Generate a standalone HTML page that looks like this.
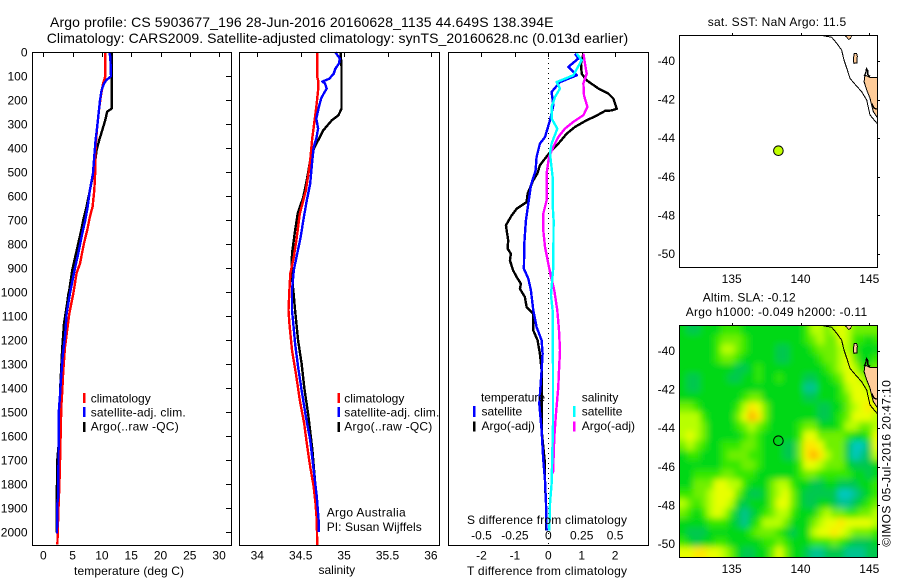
<!DOCTYPE html>
<html>
<head>
<meta charset="utf-8">
<title>Argo profile 5903677_196</title>
<style>
html,body{margin:0;padding:0;background:#fff;width:900px;height:580px;overflow:hidden}
svg{display:block}
text{font-family:"Liberation Sans",sans-serif;font-size:12px;fill:#000}
.title{font-size:14px}
.frame{fill:none;stroke:#000;stroke-width:1;shape-rendering:crispEdges}
.tick{stroke:#000;stroke-width:1;shape-rendering:crispEdges}
.series{fill:none;stroke-width:2.4;stroke-linejoin:round;shape-rendering:crispEdges}
</style>
</head>
<body>
<svg id="fig" xmlns="http://www.w3.org/2000/svg" width="900" height="580" viewBox="0 0 900 580">
<defs>
<clipPath id="clip-map1"><rect x="679.5" y="35.5" width="198" height="232"/></clipPath>
<clipPath id="clip-map2"><rect x="679.5" y="325.5" width="198" height="232"/></clipPath>
<filter id="soften" filterUnits="userSpaceOnUse" x="650" y="300" width="250" height="280"><feGaussianBlur stdDeviation="3.3"/></filter>
</defs>
<rect x="0" y="0" width="900" height="580" fill="#fff"/>

<text class="title" x="50" y="27" textLength="503.5" lengthAdjust="spacing">Argo profile: CS 5903677_196 28-Jun-2016 20160628_1135 44.649S 138.394E</text>
<text class="title" x="46.7" y="43" textLength="581.5" lengthAdjust="spacing">Climatology: CARS2009. Satellite-adjusted climatology: synTS_20160628.nc (0.013d earlier)</text>

<g id="panels"></g>
<g id="maps"></g>

<rect class="frame" x="32.5" y="52.5" width="199" height="493"/>
<rect class="frame" x="239.5" y="52.5" width="200" height="493"/>
<rect class="frame" x="448.5" y="52.5" width="200" height="493"/>
<rect class="frame" x="679.5" y="35.5" width="198" height="232"/>
<rect class="frame" x="679.5" y="325.5" width="198" height="232"/>

<text x="74" y="575" textLength="110" lengthAdjust="spacing">temperature (deg C)</text>
<text x="318.5" y="574">salinity</text>
<text x="467" y="575" textLength="160" lengthAdjust="spacing">T difference from climatology</text>
<text x="467" y="524" textLength="160" lengthAdjust="spacing">S difference from climatology</text>

<g>
<rect x="83" y="393" width="2.5" height="10" fill="#f00"/>
<text x="90.7" y="402.5">climatology</text>
<rect x="83" y="407" width="2.5" height="10" fill="#00f"/>
<text x="90.7" y="416.5" textLength="95" lengthAdjust="spacing">satellite-adj. clim.</text>
<rect x="83" y="422" width="2.5" height="10" fill="#000"/>
<text x="90.7" y="430.5" textLength="88" lengthAdjust="spacing">Argo(..raw -QC)</text>
</g>
<g>
<rect x="337.5" y="393" width="2.5" height="10" fill="#f00"/>
<text x="344.3" y="402.5">climatology</text>
<rect x="337.5" y="407" width="2.5" height="10" fill="#00f"/>
<text x="344.3" y="416.5" textLength="95" lengthAdjust="spacing">satellite-adj. clim.</text>
<rect x="337.5" y="422" width="2.5" height="10" fill="#000"/>
<text x="344.3" y="430.5" textLength="88" lengthAdjust="spacing">Argo(..raw -QC)</text>
</g>
<text x="326.7" y="516.5" textLength="79" lengthAdjust="spacing">Argo Australia</text>
<text x="326.7" y="531" textLength="95" lengthAdjust="spacing">PI: Susan Wijffels</text>

<g>
<text x="481" y="401.5" textLength="64" lengthAdjust="spacing">temperature</text>
<text x="581.7" y="401.5">salinity</text>
<rect x="473" y="406" width="2.5" height="11" fill="#00f"/>
<text x="481.5" y="415.7">satellite</text>
<rect x="473" y="421.5" width="2.5" height="10" fill="#000"/>
<text x="481.5" y="430">Argo(-adj)</text>
<rect x="573" y="406" width="2.5" height="11" fill="#0ff"/>
<text x="581.7" y="415.7">satellite</text>
<rect x="573" y="421.5" width="2.5" height="10" fill="#f0f"/>
<text x="581.7" y="430">Argo(-adj)</text>
</g>

<text x="707.7" y="26" textLength="138.5" lengthAdjust="spacing">sat. SST: NaN Argo: 11.5</text>
<text x="702.7" y="301.7" textLength="93" lengthAdjust="spacing">Altim. SLA: -0.12</text>
<text x="685.7" y="316" textLength="181.5" lengthAdjust="spacing">Argo h1000: -0.049 h2000: -0.11</text>
<text transform="translate(890.7 546.7) rotate(-90)" textLength="166.5" lengthAdjust="spacing">©IMOS 05-Jul-2016 20:47:10</text>
</svg>

<script>
/* ---------- tick values ---------- */
const depthTicks = [0,100,200,300,400,500,600,700,800,900,1000,1100,1200,1300,1400,1500,1600,1700,1800,1900,2000];
const temperatureTicks = [0,5,10,15,20,25,30];
const salinityTicks = [34,34.5,35,35.5,36];
const tDiffTicks = [-2,-1,0,1,2];
const sDiffTicks = [-0.5,-0.25,0,0.25,0.5];
const lonTicks = [135,140,145];
const latTicks = [-40,-42,-44,-46,-48,-50];

/* ---------- temperature profiles ---------- */
const tempClimDepth = [0,100,130,185,240,310,393,490,574,643,685,740,796,880,920,990,1005,1089,1144,1228,1325,1408,1478,1547,1728,1800,1900,2000,2050];
const tempClimValue = [10.58,10.58,10.2,9.8,9.5,9.2,8.93,8.87,8.7,8.42,7.96,7.5,6.94,6.26,5.69,5.23,5.12,4.44,4.15,3.7,3.41,3.24,3.07,3.0,2.84,2.75,2.6,2.45,2.4];
const tempSatDepth = [0,18,100,115,130,157,200,254,310,365,449,504,574,643,699,754,838,893,949,990,1005,1089,1172,1269,1367,1436,1491,1686,1853,1880,2005];
const tempSatValue = [11.26,11.43,11.55,10.8,10.35,9.95,9.67,9.44,9.2,8.93,8.65,8.48,7.96,7.57,7.17,6.66,5.97,5.46,5.0,4.66,4.55,3.98,3.75,3.3,3.0,2.84,2.67,2.6,2.56,2.39,2.33];
const tempArgoDepth = [0,235,247,282,324,365,407,476,560,643,685,740,796,851,907,990,1005,1061,1130,1228,1311,1394,1464,1603,1700,1880,1950,2000];
const tempArgoValue = [11.66,11.66,10.9,10.58,10.07,9.56,9.1,8.76,8.08,7.39,6.94,6.48,5.97,5.46,4.95,4.44,4.3,3.98,3.53,3.24,3.07,2.9,2.84,2.73,2.39,2.28,2.28,2.25];

/* ---------- salinity profiles ---------- */
const salClimDepth = [0,103,116,158,228,283,367,450,505,575,617,672,728,783,853,922,992,1075,1130,1241,1352,1450,1547,1630,1727,1811,1880,1950,2054];
const salClimValue = [34.69,34.69,34.70,34.70,34.68,34.66,34.63,34.61,34.59,34.56,34.53,34.49,34.47,34.45,34.42,34.38,34.37,34.36,34.37,34.40,34.45,34.49,34.54,34.57,34.61,34.65,34.67,34.685,34.69];
const salSatDepth = [0,26,47,68,89,110,122,130,151,169,193,228,276,318,360,394,464,547,617,700,769,839,908,992,1075,1130,1214,1311,1408,1519,1616,1727,1852,1964,1998];
const salSatValue = [34.9,34.95,34.94,34.90,34.88,34.83,34.75,34.78,34.80,34.77,34.735,34.71,34.68,34.70,34.68,34.65,34.63,34.61,34.57,34.53,34.50,34.46,34.42,34.40,34.40,34.415,34.435,34.47,34.51,34.56,34.61,34.645,34.685,34.71,34.71];
const salArgoDepth = [0,61,235,262,283,325,367,394,450,533,603,672,742,839,922,992,1075,1200,1297,1394,1519,1658,1811,1894,1950];
const salArgoValue = [34.96,34.97,34.97,34.935,34.86,34.76,34.70,34.66,34.61,34.57,34.53,34.465,34.435,34.40,34.395,34.415,34.435,34.47,34.51,34.54,34.59,34.635,34.67,34.69,34.695];

/* ---------- difference profiles ---------- */
const tDiffArgoDepth = [6,47,89,117,151,172,193,235,242,244,267,283,311,339,381,408,443,471,506,533,589,624,652,680,721,784,818,839,867,909,936,964,985,1020,1061,1089,1159,1200,1256,1325,1575,1714,1797,1880,1992];
const tDiffArgoValue = [1.05,0.98,1.0,1.15,1.5,1.8,1.95,2.05,1.9,1.7,1.4,1.15,0.8,0.55,0.3,0.1,-0.1,-0.25,-0.33,-0.45,-0.62,-0.65,-0.95,-1.1,-1.27,-1.2,-1.22,-1.12,-1.15,-1.05,-0.95,-0.82,-0.85,-0.7,-0.65,-0.45,-0.45,-0.32,-0.25,-0.2,-0.2,-0.1,-0.1,-0.07,-0.06];
const tDiffSatDepth = [6,26,61,96,124,165,221,283,353,381,436,492,554,631,700,798,902,943,992,1075,1145,1200,1256,1325,1464,1575,1700,1783,1880,1992];
const tDiffSatValue = [0.8,0.9,0.6,0.85,0.35,0.1,0.15,0.05,-0.1,-0.25,-0.35,-0.38,-0.52,-0.6,-0.67,-0.72,-0.73,-0.6,-0.52,-0.45,-0.35,-0.2,-0.17,-0.2,-0.27,-0.2,-0.15,-0.1,-0.07,-0.05];
const sDiffArgoDepth = [6,47,89,130,179,228,262,290,318,353,394,436,506,617,672,742,811,881,936,992,1075,1159,1242,1325,1394,1505,1603,1755];
const sDiffArgoValue = [0.2625,0.275,0.2875,0.2625,0.2675,0.2925,0.2625,0.1875,0.125,0.075,0.0375,0.005,-0.0125,-0.0125,-0.0375,-0.0375,-0.025,0,0.02,0.045,0.0675,0.08,0.0875,0.08,0.075,0.0575,0.045,0.035];
const sDiffSatDepth = [6,33,96,124,151,186,228,276,318,381,422,519,631,700,895,978,1013,1075,1325,1547,1797,1880,1992];
const sDiffSatValue = [0.2125,0.25,0.1875,0.0625,0.0875,0.05,0.025,0.025,0.0675,0.025,0.0125,0.0325,0.0325,0.04,0.0375,0.025,0.02,0.0325,0.035,0.035,0.025,0.0125,0.0075];

/* ---------- map data ---------- */
const argoLon = 138.394;
const argoLat = -44.649;
const shelfLine = [[141.66,-38.69],[142.27,-38.77],[142.63,-39.08],[142.99,-39.43],[143.16,-39.95],[143.41,-40.47],[143.6,-40.9],[144.08,-41.3],[144.45,-41.59],[144.81,-42.02],[145.05,-42.8],[145.62,-43.28]];
const tasmaniaOutline = [[144.69,-40.73],[145.05,-40.85],[145.7,-40.85],[145.7,-43.05],[145.3,-42.63],[145.17,-42.28],[145.05,-41.93],[144.81,-41.5],[144.62,-41.07]];
const kingIsland = [[143.9,-39.62],[144.08,-39.6],[144.13,-39.75],[144.1,-40.1],[143.88,-40.12],[143.84,-39.9]];
const otwayCoast = [[143.16,-38.66],[143.75,-38.66],[143.62,-38.85],[143.48,-38.88],[143.35,-38.75]];
const hunterIslands = [[144.62,-40.8],[144.75,-40.6],[144.8,-40.4],[144.9,-40.5],[144.87,-40.7],[145.05,-40.8]];
const macquarieLine = [[145.17,-42.2],[145.35,-42.45],[145.62,-42.5]];
const slaLonStart = 131.2;
const slaLatStart = -38.65;
const slaStep = 0.5;
const slaColors = ['#00c8c0','#00c490','#00c850','#00d818','#30e800','#70f000','#b8ff00','#e8ff00','#ffe800','#ffb000'];
/* SLA level per cell, north to south */
const slaGrid = [
[3,2,2,3,3,3,4,4,4,3,3,3,3,3,3,3,3,3,4,6,6,5,6,7,6,5,5,5,5],
[3,3,3,3,3,4,5,5,5,4,3,3,3,3,3,3,3,3,4,5,6,5,5,7,6,4,4,3,4],
[3,3,3,3,3,4,6,6,5,4,3,3,3,3,2,2,3,3,3,4,5,5,5,6,6,4,3,3,3],
[3,3,3,3,3,4,5,5,4,3,3,3,3,3,2,2,3,3,3,3,4,5,5,6,7,5,3,3,4],
[3,3,3,3,3,3,3,3,2,2,3,4,3,3,3,3,3,3,3,3,3,4,5,6,7,6,4,4,5],
[3,2,2,3,3,3,3,2,2,3,3,4,3,3,4,3,3,3,2,2,3,3,4,5,7,7,6,5,5],
[3,2,2,3,3,3,3,3,3,3,3,3,3,3,3,3,3,3,1,1,3,3,3,4,6,7,7,6,6],
[3,3,3,3,3,3,3,3,3,4,5,5,3,3,3,3,3,3,2,2,3,3,3,4,5,7,7,7,6],
[5,5,4,3,3,3,3,3,4,6,8,7,5,3,3,3,3,3,3,3,2,2,3,3,5,6,7,8,7],
[6,6,6,4,3,3,3,3,5,7,9,8,5,3,3,3,3,3,3,3,2,2,3,4,5,7,7,7,6],
[6,6,6,5,3,3,3,3,4,5,6,5,4,3,3,3,3,4,5,5,3,3,3,4,6,6,5,5,6],
[6,7,6,5,3,3,3,3,3,4,5,4,3,3,3,3,3,4,7,7,5,5,5,5,4,3,3,4,7],
[5,6,5,4,3,3,4,4,4,5,5,4,3,3,3,2,2,5,8,8,7,5,5,5,2,0,0,2,7],
[3,4,4,3,3,3,4,5,5,5,4,4,3,3,3,2,2,5,8,9,8,6,5,5,2,0,1,2,6],
[3,3,3,3,3,3,4,4,4,5,5,4,3,3,3,3,3,4,7,7,6,5,5,5,3,2,2,2,3],
[3,3,4,4,4,4,5,5,4,4,4,3,3,3,3,3,3,4,5,5,4,4,4,4,4,3,3,2,3],
[3,3,5,5,5,7,7,6,6,4,3,3,3,5,6,6,4,3,3,2,2,3,3,2,2,2,3,3,4],
[4,4,5,5,6,7,7,7,5,3,2,2,3,5,6,7,5,3,2,2,2,2,2,0,0,1,2,3,4],
[6,5,4,5,6,7,7,6,3,2,3,3,3,5,7,7,5,3,2,2,3,3,2,1,1,2,3,4,5],
[5,4,3,4,6,7,6,4,2,1,2,3,4,5,6,6,4,3,3,3,5,6,5,5,4,4,5,5,6],
[3,3,3,3,4,4,4,3,2,1,3,4,6,6,6,5,3,3,3,5,6,7,7,8,7,7,7,7,6],
[3,2,2,2,3,3,3,3,3,3,4,5,5,5,4,3,2,3,3,6,7,7,8,7,6,5,5,5,4],
[4,3,2,3,3,4,4,3,3,3,3,3,4,4,5,4,3,3,3,4,4,4,5,4,3,2,2,2,3],
[7,7,8,8,7,7,6,5,3,2,2,3,3,5,7,5,3,3,2,1,1,2,2,2,1,1,1,2,2]
];

/* ---------- axis functions ---------- */
function yDepth(d){ return 52.3 + d * 0.24; }
function xTemp(t){ return 43.3 + t * 5.86; }
function xSal(s){ return 257.3 + (s - 34) * 86.8; }
function xTDiff(t){ return 548.3 + t * 33.4; }
function xSDiff(s){ return 548.3 + s * 133.6; }
function xLon(lon){ return 731.7 + (lon - 135) * 13.76; }
function yLatSst(lat){ return 61 + (-40 - lat) * 19.3; }
function yLatSla(lat){ return 351 + (-40 - lat) * 19.3; }

/* ---------- helpers ---------- */
const NS = 'http://www.w3.org/2000/svg';
const panels = document.getElementById('panels');
const maps = document.getElementById('maps');

function mk(parent, tag, attrs, txt){
  const el = document.createElementNS(NS, tag);
  for (const k in attrs) el.setAttribute(k, attrs[k]);
  if (txt !== undefined) el.textContent = txt;
  parent.appendChild(el);
  return el;
}
function drawProfile(name, color, width, depths, values, xFn){
  const pts = depths.map(function(d, i){ return xFn(values[i]).toFixed(1) + ',' + yDepth(d).toFixed(1); }).join(' ');
  const el = mk(panels, 'polyline', {'class':'series', points:pts, stroke:color, 'stroke-width':width});
  
  
}
function tickLabel(parent, x, y, anchor, label){
  const el = mk(parent, 'text', {x:x, y:y, 'text-anchor':anchor}, label);
  
  
}
function tickMark(parent, x1, y1, x2, y2){
  const el = mk(parent, 'line', {'class':'tick', x1:x1, y1:y1, x2:x2, y2:y2});
  
  
}
function linePts(arr, yFn){
  return arr.map(function(p){ return xLon(p[0]).toFixed(1) + ',' + yFn(p[1]).toFixed(1); }).join(' ');
}

/* ---------- profile panels ---------- */
depthTicks.forEach(function(d){
  tickLabel(panels, 27.5, yDepth(d) + 4, 'end', d);
  if (d > 0) tickMark(panels, 226, Math.round(yDepth(d)) + 0.5, 231, Math.round(yDepth(d)) + 0.5);
});
temperatureTicks.forEach(function(t){
  tickLabel(panels, xTemp(t), 559.3, 'middle', t);
  tickMark(panels, Math.round(xTemp(t)) + 0.5, 53, Math.round(xTemp(t)) + 0.5, 57);
});
salinityTicks.forEach(function(s){
  tickLabel(panels, xSal(s), 559.3, 'middle', s);
  tickMark(panels, Math.round(xSal(s)) + 0.5, 53, Math.round(xSal(s)) + 0.5, 57);
});
tDiffTicks.forEach(function(t){
  tickLabel(panels, xTDiff(t), 559.3, 'middle', t);
  tickMark(panels, Math.round(xTDiff(t)) + 0.5, 53, Math.round(xTDiff(t)) + 0.5, 57);
});
sDiffTicks.forEach(function(s){
  tickLabel(panels, xSDiff(s), 539.3, 'middle', s);
});

const zeroLine = mk(panels, 'line', {x1:xTDiff(0), y1:53, x2:xTDiff(0), y2:545, stroke:'#000', 'stroke-width':1, 'stroke-dasharray':'1 4', 'shape-rendering':'crispEdges'});



drawProfile('temperature-argo-line', '#000', 3, tempArgoDepth, tempArgoValue, xTemp);
drawProfile('temperature-climatology-line', '#f00', 3, tempClimDepth, tempClimValue, xTemp);
drawProfile('temperature-satellite-line', '#00f', 3, tempSatDepth, tempSatValue, xTemp);

drawProfile('salinity-argo-line', '#000', 3, salArgoDepth, salArgoValue, xSal);
drawProfile('salinity-climatology-line', '#f00', 3, salClimDepth, salClimValue, xSal);
drawProfile('salinity-satellite-line', '#00f', 2.6, salSatDepth, salSatValue, xSal);

drawProfile('t-difference-argo-line', '#000', 2.6, tDiffArgoDepth, tDiffArgoValue, xTDiff);
drawProfile('t-difference-satellite-line', '#00f', 2.6, tDiffSatDepth, tDiffSatValue, xTDiff);
drawProfile('s-difference-argo-line', '#f0f', 2.6, sDiffArgoDepth, sDiffArgoValue, xSDiff);
drawProfile('s-difference-satellite-line', '#0ff', 3, sDiffSatDepth, sDiffSatValue, xSDiff);

/* ---------- SLA heat map ---------- */
const slaLayer = mk(maps, 'g', {'clip-path':'url(#clip-map2)'});


const slaCells = mk(slaLayer, 'g', {filter:'url(#soften)'});


slaGrid.forEach(function(row, r){
  row.forEach(function(v, c){
    let x0 = xLon(slaLonStart + c * slaStep);
    let x1 = xLon(slaLonStart + (c + 1) * slaStep);
    let y0 = yLatSla(slaLatStart - r * slaStep);
    let y1 = yLatSla(slaLatStart - (r + 1) * slaStep);
    if (c === 0) x0 -= 12;
    if (c === row.length - 1) x1 += 12;
    if (r === 0) y0 -= 12;
    if (r === slaGrid.length - 1) y1 += 12;
    const cell = mk(slaCells, 'rect', {x:x0.toFixed(2), y:y0.toFixed(2), width:(x1 - x0 + 0.6).toFixed(2), height:(y1 - y0 + 0.6).toFixed(2), fill:slaColors[v]});
    
    
  });
});

/* ---------- map layers ---------- */
function drawMap(prefix, clipId, yFn, dotFill){
  const g = mk(maps, 'g', {'clip-path':'url(#' + clipId + ')'});
  
  

  const tas = mk(g, 'polygon', {points:linePts(tasmaniaOutline, yFn), fill:'#ffcc99', stroke:'#000', 'stroke-width':1, 'shape-rendering':'crispEdges'});
  
  

  const king = mk(g, 'polygon', {points:linePts(kingIsland, yFn), fill:'#ffcc99', stroke:'#000', 'stroke-width':1, 'shape-rendering':'crispEdges'});
  
  

  const otway = mk(g, 'polygon', {points:linePts(otwayCoast, yFn), fill:'#ffcc99', stroke:'#000', 'stroke-width':0.8, 'shape-rendering':'crispEdges'});
  
  

  const shelf = mk(g, 'polyline', {points:linePts(shelfLine, yFn), fill:'none', stroke:'#000', 'stroke-width':1, 'shape-rendering':'crispEdges'});
  
  

  const hunter = mk(g, 'polyline', {points:linePts(hunterIslands, yFn), fill:'none', stroke:'#000', 'stroke-width':1.4, 'shape-rendering':'crispEdges'});
  
  

  const mac = mk(g, 'polyline', {points:linePts(macquarieLine, yFn), fill:'none', stroke:'#000', 'stroke-width':1.4, 'shape-rendering':'crispEdges'});
  
  

  const dot = mk(g, 'circle', {cx:xLon(argoLon).toFixed(1), cy:yFn(argoLat).toFixed(1), r:4.8, fill:dotFill, stroke:'#000', 'stroke-width':1});
  
  
}
drawMap('sst-map', 'clip-map1', yLatSst, '#c0ff00');
drawMap('sla-map', 'clip-map2', yLatSla, 'none');

function drawMapTicks(yFn, top, bottom){
  lonTicks.forEach(function(lon){
    tickLabel(maps, xLon(lon), bottom + 16, 'middle', lon);
    tickMark(maps, Math.round(xLon(lon)) + 0.5, top - 2, Math.round(xLon(lon)) + 0.5, top);
  });
  latTicks.forEach(function(lat){
    tickLabel(maps, 675, yFn(lat) + 4, 'end', lat);
    tickMark(maps, 878, Math.round(yFn(lat)) + 0.5, 880, Math.round(yFn(lat)) + 0.5);
  });
}
drawMapTicks(yLatSst, 35, 267);
drawMapTicks(yLatSla, 325, 557);
</script>
</body>
</html>
